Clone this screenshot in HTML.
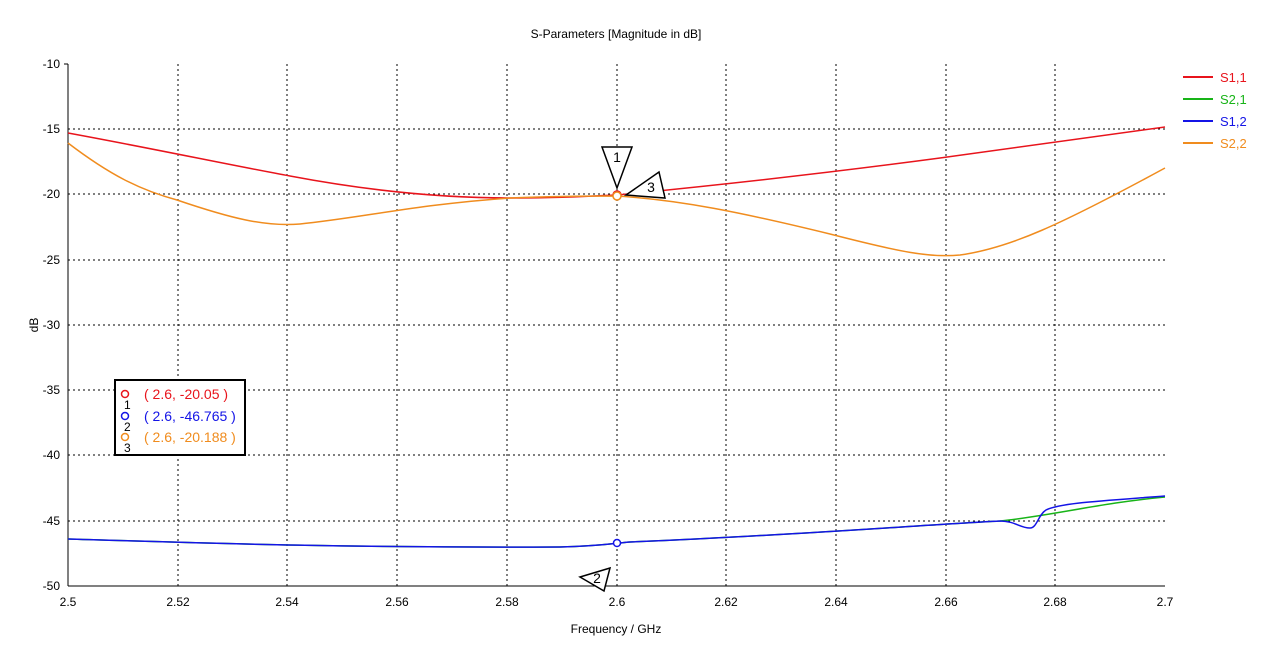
<!DOCTYPE html>
<html><head><style>
body{margin:0;background:#fff;}
svg text{font-family:"Liberation Sans",sans-serif;}
</style></head><body>
<svg width="1280" height="644" xmlns="http://www.w3.org/2000/svg">
<rect width="1280" height="644" fill="#fff"/>
<text x="616" y="38" font-size="12" text-anchor="middle" fill="#000">S-Parameters [Magnitude in dB]</text>
<g stroke="#000" stroke-dasharray="2,3" stroke-width="1">
<line x1="178" y1="64" x2="178" y2="586"/><line x1="287" y1="64" x2="287" y2="586"/>
<line x1="397" y1="64" x2="397" y2="586"/><line x1="507" y1="64" x2="507" y2="586"/>
<line x1="617" y1="64" x2="617" y2="586"/><line x1="726" y1="64" x2="726" y2="586"/>
<line x1="836" y1="64" x2="836" y2="586"/><line x1="946" y1="64" x2="946" y2="586"/>
<line x1="1055" y1="64" x2="1055" y2="586"/>
<line x1="68" y1="129" x2="1165" y2="129"/><line x1="68" y1="194" x2="1165" y2="194"/>
<line x1="68" y1="260" x2="1165" y2="260"/><line x1="68" y1="325" x2="1165" y2="325"/>
<line x1="68" y1="390" x2="1165" y2="390"/><line x1="68" y1="455" x2="1165" y2="455"/>
<line x1="68" y1="521" x2="1165" y2="521"/>
</g>
<line x1="68" y1="64" x2="68" y2="586" stroke="#000"/>
<line x1="64" y1="64" x2="68" y2="64" stroke="#000"/>
<line x1="68" y1="586" x2="1165" y2="586" stroke="#000"/>
<g font-size="12" text-anchor="end" fill="#000">
<text x="60" y="68">-10</text><text x="60" y="133">-15</text><text x="60" y="198">-20</text>
<text x="60" y="264">-25</text><text x="60" y="329">-30</text><text x="60" y="394">-35</text>
<text x="60" y="459">-40</text><text x="60" y="525">-45</text><text x="60" y="590">-50</text>
</g>
<g font-size="12" text-anchor="middle" fill="#000">
<text x="68" y="606">2.5</text><text x="178" y="606">2.52</text><text x="287" y="606">2.54</text>
<text x="397" y="606">2.56</text><text x="507" y="606">2.58</text><text x="617" y="606">2.6</text>
<text x="726" y="606">2.62</text><text x="836" y="606">2.64</text><text x="946" y="606">2.66</text>
<text x="1055" y="606">2.68</text><text x="1165" y="606">2.7</text>
<text x="616" y="633">Frequency / GHz</text>
</g>
<text x="38" y="325" font-size="12" text-anchor="middle" transform="rotate(-90 38 325)">dB</text>
<g fill="none" stroke-width="1.5">
<path d="M68,133 C150,148 230,165 290,176 C380,193 450,198 510,198 C560,198 590,196 617,195 C730,184 850,170 940,158 C1030,146 1100,136 1165,127" stroke="#e8141c"/>
<path d="M68,143 C110,175 140,190 177,200 C230,218 265,227 300,224 C360,218 420,204 510,198 C560,196 600,196 617,196 C680,200 740,212 830,234 C900,252 930,258 960,255 C1010,248 1060,225 1165,168" stroke="#f08c1e"/>
<path d="M68,539 C200,543 350,548 560,547 C600,546 617,543 630,542 C800,535 920,525 1000,521 C1050,516 1100,503 1165,497" stroke="#18b418"/>
<path d="M68,539 C200,543 350,548 560,547 C600,546 617,543 630,542 C800,535 920,525 1000,521 C1015,521 1020,528 1030,528 C1037,528 1038,515 1046,510 C1060,503 1100,501 1165,496" stroke="#1414e6"/>
</g>
<circle cx="617" cy="195" r="4" fill="#fff" stroke="#e8141c" stroke-width="1.5"/>
<circle cx="617" cy="196" r="4" fill="#fff" stroke="#f08c1e" stroke-width="1.5"/>
<circle cx="617" cy="543" r="3.5" fill="#fff" stroke="#1414e6" stroke-width="1.5"/>
<g fill="#fff" stroke="#000" stroke-width="1.5">
<polygon points="602,147 632,147 617,188"/>
<polygon points="626,195 659,172 665,198"/>
<polygon points="580,577 610,568 604,591"/>
</g>
<g font-size="14" fill="#000" text-anchor="middle">
<text x="617" y="162">1</text><text x="651" y="192">3</text><text x="597" y="583">2</text>
</g>
<rect x="115" y="380" width="130" height="75" fill="#fff" stroke="#000" stroke-width="2"/>
<g font-size="14">
<circle cx="125" cy="394" r="3.5" fill="none" stroke="#e8141c" stroke-width="1.5"/>
<text x="144" y="399" fill="#e8141c">( 2.6, -20.05 )</text>
<text x="124" y="409" font-size="12" fill="#000">1</text>
<circle cx="125" cy="416" r="3.5" fill="none" stroke="#1414e6" stroke-width="1.5"/>
<text x="144" y="421" fill="#1414e6">( 2.6, -46.765 )</text>
<text x="124" y="431" font-size="12" fill="#000">2</text>
<circle cx="125" cy="437" r="3.5" fill="none" stroke="#f08c1e" stroke-width="1.5"/>
<text x="144" y="442" fill="#f08c1e">( 2.6, -20.188 )</text>
<text x="124" y="452" font-size="12" fill="#000">3</text>
</g>
<g stroke-width="2">
<line x1="1183" y1="77" x2="1213" y2="77" stroke="#e8141c"/>
<line x1="1183" y1="99" x2="1213" y2="99" stroke="#18b418"/>
<line x1="1183" y1="121" x2="1213" y2="121" stroke="#1414e6"/>
<line x1="1183" y1="143" x2="1213" y2="143" stroke="#f08c1e"/>
</g>
<g font-size="13">
<text x="1220" y="82" fill="#e8141c">S1,1</text>
<text x="1220" y="104" fill="#18b418">S2,1</text>
<text x="1220" y="126" fill="#1414e6">S1,2</text>
<text x="1220" y="148" fill="#f08c1e">S2,2</text>
</g>
</svg>
</body></html>
